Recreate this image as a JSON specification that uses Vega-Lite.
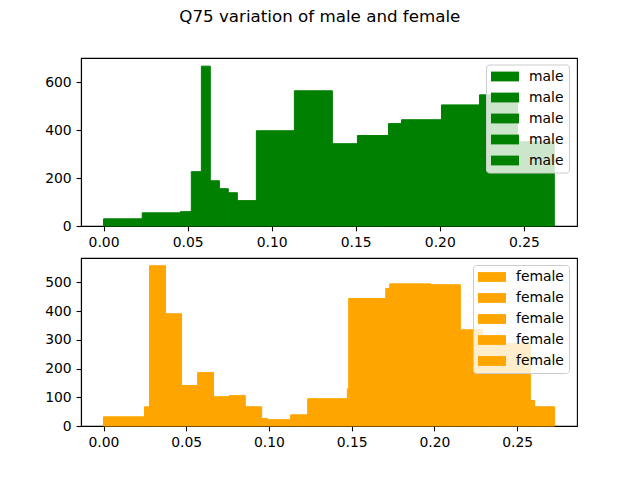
{
  "$schema": "https://vega.github.io/schema/vega-lite/v6.json",
  "padding": {"left": 44, "top": 8, "right": 5, "bottom": 5},
  "title": {
    "text": "Q75 variation of male and female",
    "font": "DejaVu Sans",
    "fontSize": 16.7,
    "fontWeight": "normal",
    "color": "black",
    "anchor": "middle",
    "baseline": "alphabetic",
    "offset": 19,
    "dx": 9
  },
  "datasets": {
    "male": [
      {"x0": 0.0, "x1": 0.0230, "count": 30, "run": "1"},
      {"x0": 0.0230, "x1": 0.0457, "count": 55, "run": "1"},
      {"x0": 0.0457, "x1": 0.0522, "count": 60, "run": "1"},
      {"x0": 0.0522, "x1": 0.0582, "count": 227, "run": "1"},
      {"x0": 0.0582, "x1": 0.0635, "count": 668, "run": "1"},
      {"x0": 0.0635, "x1": 0.0689, "count": 189, "run": "1"},
      {"x0": 0.0689, "x1": 0.0742, "count": 156, "run": "1"},
      {"x0": 0.0742, "x1": 0.0796, "count": 139, "run": "1"},
      {"x0": 0.0796, "x1": 0.0909, "count": 106, "run": "1"},
      {"x0": 0.0909, "x1": 0.1135, "count": 398, "run": "1"},
      {"x0": 0.1135, "x1": 0.1361, "count": 565, "run": "1"},
      {"x0": 0.1361, "x1": 0.1510, "count": 344, "run": "1"},
      {"x0": 0.1510, "x1": 0.1695, "count": 378, "run": "1"},
      {"x0": 0.1695, "x1": 0.1772, "count": 428, "run": "1"},
      {"x0": 0.1772, "x1": 0.2010, "count": 444, "run": "1"},
      {"x0": 0.2010, "x1": 0.2236, "count": 506, "run": "1"},
      {"x0": 0.2236, "x1": 0.2462, "count": 548, "run": "1"},
      {"x0": 0.2462, "x1": 0.2681, "count": 352, "run": "1"}
    ],
    "female": [
      {"x0": 0.0, "x1": 0.0248, "count": 32, "run": "1"},
      {"x0": 0.0248, "x1": 0.0278, "count": 67, "run": "1"},
      {"x0": 0.0278, "x1": 0.0375, "count": 558, "run": "1"},
      {"x0": 0.0375, "x1": 0.0472, "count": 391, "run": "1"},
      {"x0": 0.0472, "x1": 0.0569, "count": 141, "run": "1"},
      {"x0": 0.0569, "x1": 0.0665, "count": 186, "run": "1"},
      {"x0": 0.0665, "x1": 0.0760, "count": 102, "run": "1"},
      {"x0": 0.0760, "x1": 0.0857, "count": 106, "run": "1"},
      {"x0": 0.0857, "x1": 0.0956, "count": 67, "run": "1"},
      {"x0": 0.0956, "x1": 0.0992, "count": 26, "run": "1"},
      {"x0": 0.0992, "x1": 0.1131, "count": 22, "run": "1"},
      {"x0": 0.1131, "x1": 0.1234, "count": 39, "run": "1"},
      {"x0": 0.1234, "x1": 0.1474, "count": 95, "run": "1"},
      {"x0": 0.1474, "x1": 0.1482, "count": 130, "run": "1"},
      {"x0": 0.1482, "x1": 0.1706, "count": 444, "run": "1"},
      {"x0": 0.1706, "x1": 0.1730, "count": 479, "run": "1"},
      {"x0": 0.1730, "x1": 0.1978, "count": 495, "run": "1"},
      {"x0": 0.1978, "x1": 0.2157, "count": 492, "run": "1"},
      {"x0": 0.2157, "x1": 0.2291, "count": 335, "run": "1"},
      {"x0": 0.2291, "x1": 0.2580, "count": 287, "run": "1"},
      {"x0": 0.2580, "x1": 0.2606, "count": 89, "run": "1"},
      {"x0": 0.2606, "x1": 0.2727, "count": 67, "run": "1"}
    ]
  },
  "spacing": 6,
  "vconcat": [
    {
      "width": 496,
      "height": 168,
      "data": {"name": "male"},
      "mark": {"type": "rect", "strokeWidth": 1},
      "encoding": {
        "x": {
          "field": "x0", "type": "quantitative",
          "scale": {"domain": [-0.0134, 0.2816], "nice": false, "zero": false},
          "axis": {"values": [0, 0.05, 0.1, 0.15, 0.2, 0.25], "format": ".2f", "title": null}
        },
        "x2": {"field": "x1"},
        "y": {
          "field": "count", "type": "quantitative",
          "scale": {"domain": [0, 702], "nice": false},
          "axis": {"values": [0, 200, 400, 600], "title": null}
        },
        "y2": {"datum": 0},
        "color": {
          "field": "run", "type": "nominal",
          "scale": {"domain": ["1", "2", "3", "4", "5"], "range": ["green", "green", "green", "green", "green"]},
          "legend": {"orient": "none", "legendX": 405, "legendY": 6.5, "labelExpr": "'male'", "title": null}
        },
        "stroke": {
          "field": "run", "type": "nominal",
          "scale": {"domain": ["1", "2", "3", "4", "5"], "range": ["green", "green", "green", "green", "green"]},
          "legend": null
        }
      }
    },
    {
      "width": 496,
      "height": 168,
      "data": {"name": "female"},
      "mark": {"type": "rect", "strokeWidth": 1},
      "encoding": {
        "x": {
          "field": "x0", "type": "quantitative",
          "scale": {"domain": [-0.0136, 0.2862], "nice": false, "zero": false},
          "axis": {"values": [0, 0.05, 0.1, 0.15, 0.2, 0.25], "format": ".2f", "title": null}
        },
        "x2": {"field": "x1"},
        "y": {
          "field": "count", "type": "quantitative",
          "scale": {"domain": [0, 585], "nice": false},
          "axis": {"values": [0, 100, 200, 300, 400, 500], "title": null}
        },
        "y2": {"datum": 0},
        "color": {
          "field": "run", "type": "nominal",
          "scale": {"domain": ["1", "2", "3", "4", "5"], "range": ["orange", "orange", "orange", "orange", "orange"]},
          "legend": {"orient": "none", "legendX": 392, "legendY": 7, "labelExpr": "'female'", "title": null}
        },
        "stroke": {
          "field": "run", "type": "nominal",
          "scale": {"domain": ["1", "2", "3", "4", "5"], "range": ["orange", "orange", "orange", "orange", "orange"]},
          "legend": null
        }
      }
    }
  ],
  "resolve": {
    "scale": {"color": "independent", "stroke": "independent", "x": "independent", "y": "independent"},
    "legend": {"color": "independent"}
  },
  "config": {
    "view": {"stroke": "black", "strokeWidth": 1.1},
    "axis": {
      "labelFont": "DejaVu Sans",
      "labelFontSize": 13.9,
      "labelColor": "black",
      "labelPadding": 4.9,
      "labelFlush": false,
      "labelOverlap": false,
      "tickColor": "black",
      "tickSize": 4.9,
      "tickWidth": 1.1,
      "domainColor": "black",
      "domainWidth": 1.1,
      "grid": false
    },
    "legend": {
      "labelFont": "DejaVu Sans",
      "labelFontSize": 13.9,
      "labelColor": "black",
      "symbolType": "M-2,-0.7L2,-0.7L2,0.7L-2,0.7Z",
      "symbolSize": 196,
      "symbolStrokeWidth": 0,
      "symbolOpacity": 1,
      "symbolOffset": 7,
      "labelOffset": 17,
      "rowPadding": 7,
      "padding": 5,
      "fillColor": "rgba(255,255,255,0.8)",
      "strokeColor": "#cccccc",
      "cornerRadius": 3
    }
  }
}
